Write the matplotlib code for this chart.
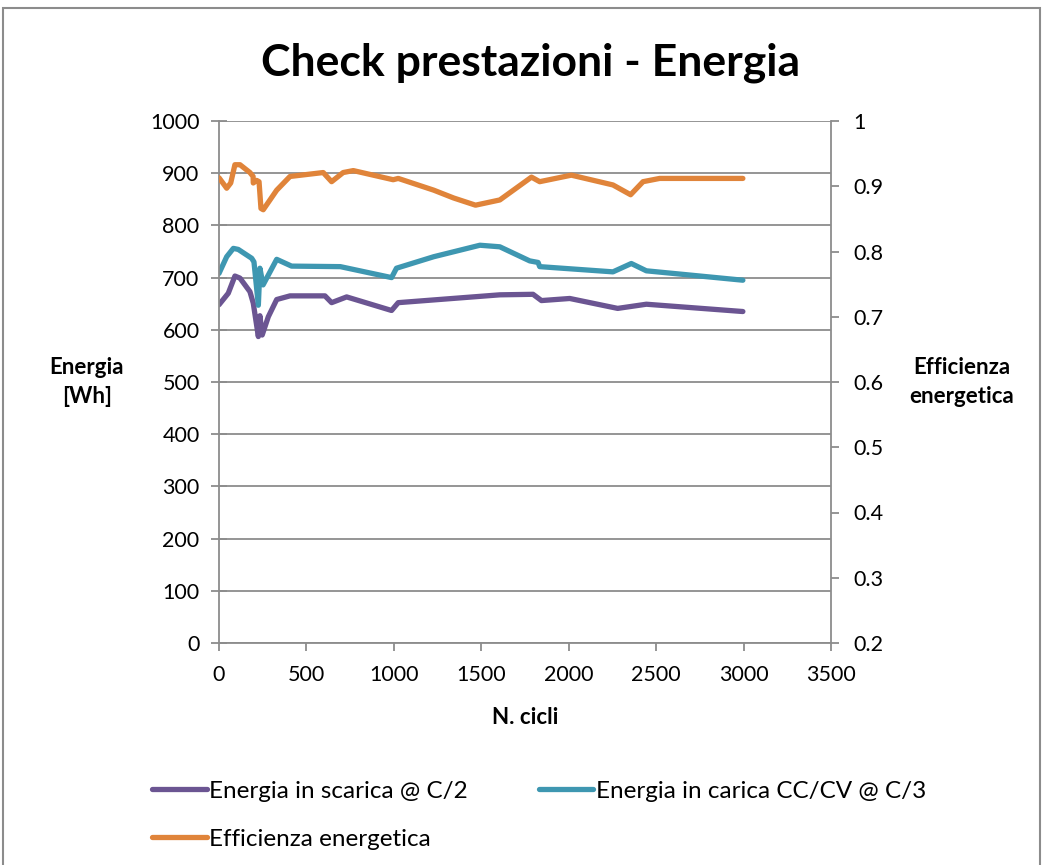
import numpy as np
import matplotlib.pyplot as plt
from matplotlib.patches import Rectangle
from matplotlib.lines import Line2D

plt.rcParams['font.family'] = ['Lato', 'DejaVu Sans']

# energia in scarica @ C/2 [Wh]
cicli_scarica = [0, 53, 91, 120, 177, 196, 225, 234, 247, 282, 330, 406, 606, 644, 730,
                 987, 1025, 1606, 1796, 1844, 2006, 2280, 2444, 2996]
e_scarica = [648, 670, 703, 699, 673, 651, 587, 627, 590, 625, 658, 665, 665, 652, 663,
             637, 652, 667, 668, 656, 660, 641, 649, 635]

# energia in carica CC/CV @ C/3 [Wh]
cicli_carica = [0, 44, 82, 110, 187, 200, 225, 234, 252, 330, 415, 694, 987, 1015,
                1228, 1492, 1606, 1777, 1825, 1834, 2253, 2358, 2444, 2996]
e_carica = [708, 740, 756, 754, 737, 730, 647, 718, 686, 735, 722, 721, 700, 718,
            740, 762, 759, 732, 729, 721, 711, 727, 713, 695]

# efficienza energetica
cicli_eff = [0, 44, 67, 91, 120, 177, 195, 196, 215, 229, 240, 253, 330, 406, 596, 644,
             710, 768, 996, 1025, 1228, 1342, 1467, 1606, 1787, 1834, 2015, 2253, 2354,
             2425, 2520, 2996]
eff = [0.913, 0.897, 0.905, 0.933, 0.933, 0.921, 0.915, 0.905, 0.909, 0.907, 0.866, 0.864,
       0.894, 0.915, 0.921, 0.907, 0.921, 0.924, 0.910, 0.912, 0.894, 0.882, 0.871, 0.879,
       0.914, 0.907, 0.917, 0.902, 0.887, 0.907, 0.912, 0.912]

viola = '#6b5592'
azzurro = '#3e97b1'
arancio = '#e0843a'
grigio = '#8c8c8c'

W, H = 1043, 865
fig = plt.figure(figsize=(W / 100, H / 100), dpi=100)
ax = fig.add_axes([219 / W, 1 - 643 / H, 612 / W, 522 / H])
ax2 = ax.twinx()

stile = dict(lw=3.8, solid_capstyle='round', solid_joinstyle='round')
ax.plot(cicli_scarica, e_scarica, color=viola, **stile)
ax.plot(cicli_carica, e_carica, color=azzurro, **stile)
ax2.plot(cicli_eff, eff, color=arancio, **stile)

ax.set_xlim(0, 3500)
ax.set_ylim(0, 1000)
ax2.set_ylim(0.2, 1)
ax.set_xticks(np.arange(0, 3501, 500))
ax.set_yticks(np.arange(0, 1001, 100))
ax2.set_yticks(np.arange(0.2, 1.01, 0.1))
ax2.set_yticklabels(['0.2', '0.3', '0.4', '0.5', '0.6', '0.7', '0.8', '0.9', '1'])

ax.grid(axis='y', color=grigio, lw=1.3)
ax.set_axisbelow(True)
for a in (ax, ax2):
    for s in a.spines.values():
        s.set_color(grigio)
        s.set_linewidth(1.3)
    a.spines['top'].set_visible(False)
ax.spines['right'].set_visible(False)
ax2.spines['left'].set_visible(False)
ax2.spines['bottom'].set_visible(False)

ax.tick_params(axis='y', direction='inout', length=12, width=1.3, color=grigio,
               labelsize=15.5, pad=8)
ax.tick_params(axis='x', direction='out', length=6, width=1.3, color=grigio,
               labelsize=15.5, pad=10)
ax2.tick_params(axis='y', direction='out', length=6, width=1.3, color=grigio,
                labelsize=15.5, pad=10)

ax.set_ylabel('Energia\n[Wh]', rotation=0, fontsize=16, fontweight='bold',
              ha='center', va='center', linespacing=1.5)
ax.yaxis.set_label_coords(-0.216, 0.5)
ax2.set_ylabel('Efficienza\nenergetica', rotation=0, fontsize=16, fontweight='bold',
               ha='center', va='center', linespacing=1.5)
ax2.yaxis.set_label_coords(1.214, 0.5)
ax.set_xlabel('N. cicli', fontsize=16, fontweight='bold')
ax.xaxis.set_label_coords(0.5, -0.122)

fig.text(531 / W, 1 - 63 / H, 'Check prestazioni - Energia', fontsize=32,
         fontweight='bold', ha='center', va='center')

# ordine per colonne: la seconda colonna contiene solo la carica
voci = [Line2D([], [], color=viola, lw=3.8, solid_capstyle='round'),
        Line2D([], [], color=arancio, lw=3.8, solid_capstyle='round'),
        Line2D([], [], color=azzurro, lw=3.8, solid_capstyle='round')]
fig.legend(voci, ['Energia in scarica @ C/2', 'Efficienza energetica',
                  'Energia in carica CC/CV @ C/3'],
           ncol=2, loc='upper left', bbox_to_anchor=(130 / W, 1 - 759 / H),
           frameon=False, fontsize=17.5, handlelength=2.25, handletextpad=0.12,
           columnspacing=2.9, labelspacing=1.1)

# cornice esterna del grafico
fig.patches.append(Rectangle((3 / W, -0.05), 1037 / W, 1.05 - 8 / H,
                             transform=fig.transFigure, fill=False,
                             edgecolor=grigio, lw=1.5))

fig.savefig('out.png', dpi=100)
